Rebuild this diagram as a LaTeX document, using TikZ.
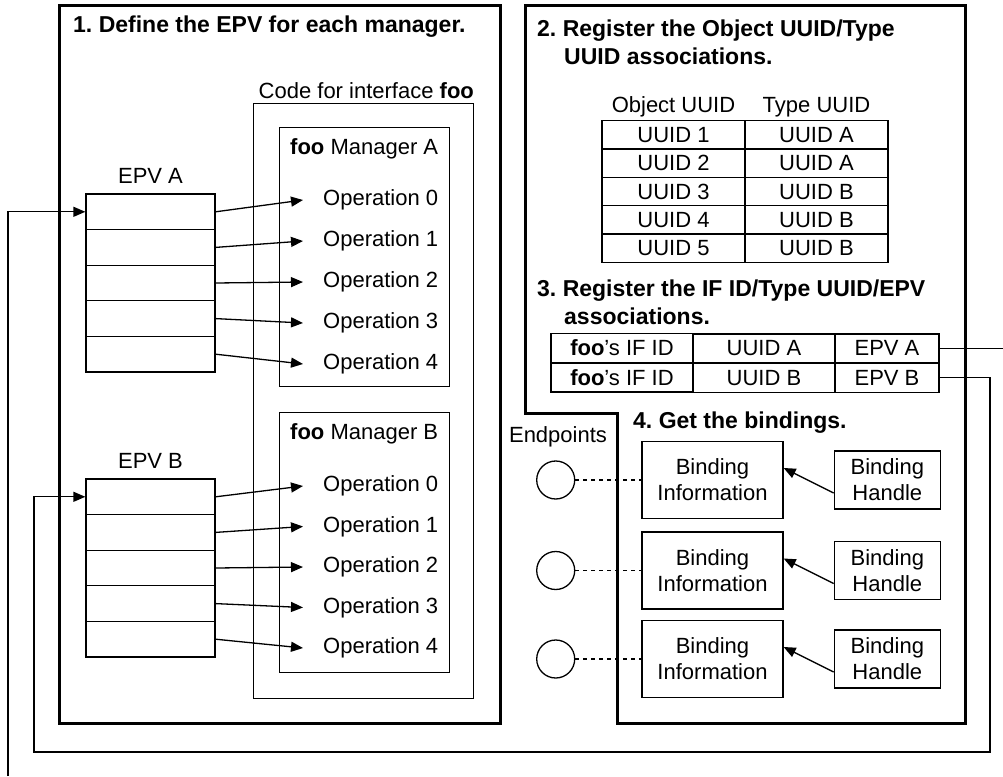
\documentclass[tikz,border=0pt]{standalone}
\usepackage{fontspec}
\setmainfont{Liberation Sans}
\usetikzlibrary{positioning,arrows.meta,matrix}
\frenchspacing

\tikzset{
  every node/.style={font=\fontsize{22}{26}\selectfont},
  frame/.style={line width=3pt},
  lin/.style={line width=1.3pt},
  boxed/.style={draw, line width=1.1pt},
  cell/.style={draw, line width=1.3pt, minimum width=129pt, minimum height=35.6pt},
  oper/.style={anchor=west, inner xsep=20pt, inner ysep=0pt},
  ptr/.style={line width=1.3pt, -{Triangle[length=12pt,width=10pt]}},
  title/.style={font=\bfseries\fontsize{23}{28}\selectfont, align=left, anchor=west, inner sep=0pt},
  infobox/.style={draw, line width=1.3pt, align=center, minimum width=141pt, minimum height=77pt},
  hdlbox/.style={draw, line width=1.3pt, align=center, minimum width=106pt, minimum height=58pt},
  endpt/.style={draw, circle, line width=1.3pt, minimum size=38pt, inner sep=0pt}
}

\begin{document}
\begin{tikzpicture}[x=1pt,y=-1pt]
 \useasboundingbox (0,0) rectangle (1003,776);

 % step 1
 \draw[frame] (59,6) rectangle (500,723);
 \node[title] (t1) at (73,27) {1. Define the EPV for each manager.};
 \node[boxed, minimum width=220pt, minimum height=595pt, anchor=north west] (code) at (253,103) {};
 \node[anchor=south east, inner xsep=0pt, inner ysep=4pt] at (code.north east) {Code for interface \textbf{foo}};
 \node[boxed, minimum width=170pt, minimum height=259pt, anchor=north west] (mgrA) at (279,127) {};
 \node[anchor=north west, inner xsep=11pt, inner ysep=11pt] at (mgrA.north west) {\textbf{foo} Manager A};
 \node[boxed, minimum width=170pt, minimum height=260pt, anchor=north west] (mgrB) at (279,412) {};
 \node[anchor=north west, inner xsep=11pt, inner ysep=11pt] at (mgrB.north west) {\textbf{foo} Manager B};

 \foreach \i in {0,...,4} {
  \node[cell] (ea\i) at (150.5,{211.8+35.6*\i}) {};
  \node[oper] (oa\i) at (303,{200+41*\i}) {Operation \i};
  \draw[ptr] (ea\i.east) -- (oa\i.west);
  \node[cell] (eb\i) at (150.5,{496.8+35.6*\i}) {};
  \node[oper] (ob\i) at (303,{486+40.5*\i}) {Operation \i};
  \draw[ptr] (eb\i.east) -- (ob\i.west);
 }
 \node[above=6pt of ea0] (epvA) {EPV A};
 \node[above=6pt of eb0] (epvB) {EPV B};

 % steps 2-4
 \draw[frame] (525,6) -- (965,6) -- (965,723) -- (617,723) -- (617,413) -- (525,413) -- cycle;
 \node[title] (t2) at (537,42) {2. Register the Object UUID/Type\\\hspace*{27pt}UUID associations.};
 \matrix (objtab) [matrix of nodes, anchor=north, row sep=-1.3pt, column sep=-1.3pt,
   nodes={draw, line width=1.3pt, minimum width=143pt, minimum height=28.3pt, inner sep=0pt},
   row 1/.style={nodes={draw=none}}] at (745,89)
 {
   Object UUID & Type UUID \\
   UUID 1 & UUID A \\
   UUID 2 & UUID A \\
   UUID 3 & UUID B \\
   UUID 4 & UUID B \\
   UUID 5 & UUID B \\
 };

 \node[title] (t3) at (537,302.5) {3. Register the IF ID/Type UUID/EPV\\\hspace*{27pt}associations.};
 \matrix (iftab) [matrix of nodes, row sep=-1.3pt, column sep=-1.3pt,
   nodes={draw, line width=1.3pt, minimum height=29pt, inner sep=0pt},
   column 1/.style={nodes={minimum width=142pt}},
   column 2/.style={nodes={minimum width=142pt}},
   column 3/.style={nodes={minimum width=104pt}}] at (745,363)
 {
   \textbf{foo}'s IF ID & UUID A & EPV A \\
   \textbf{foo}'s IF ID & UUID B & EPV B \\
 };

 \node[title] (t4) at (633,423) {4. Get the bindings.};
 \node (eplabel) at (558,437) {Endpoints};
 \foreach \i/\y in {1/480,2/570.5,3/659} {
  \node[infobox] (i\i) at (712.5,\y) {Binding\\Information};
  \node[hdlbox, right=50pt of i\i] (h\i) {Binding\\Handle};
  \node[endpt, left=66pt of i\i] (e\i) {};
  \draw[lin, dash pattern=on 4pt off 4pt] (e\i.east) -- (i\i.west);
  \draw[ptr] ([yshift=-13pt]h\i.west) -- ([yshift=12pt]i\i.east);
 }

 % EPV links
 \coordinate (cutR) at (1003,349);
 \coordinate (cutB) at (8,776);
 \coordinate (loopR) at (990,752);
 \coordinate (loopL) at (34,752);
 \draw[lin] (iftab-1-3.east) -- (iftab-1-3.east -| cutR);
 \draw[ptr] (cutB) |- (ea0.west);
 \draw[ptr] (iftab-2-3.east) -| (loopR) -- (loopL) |- (eb0.west);
\end{tikzpicture}
\end{document}
